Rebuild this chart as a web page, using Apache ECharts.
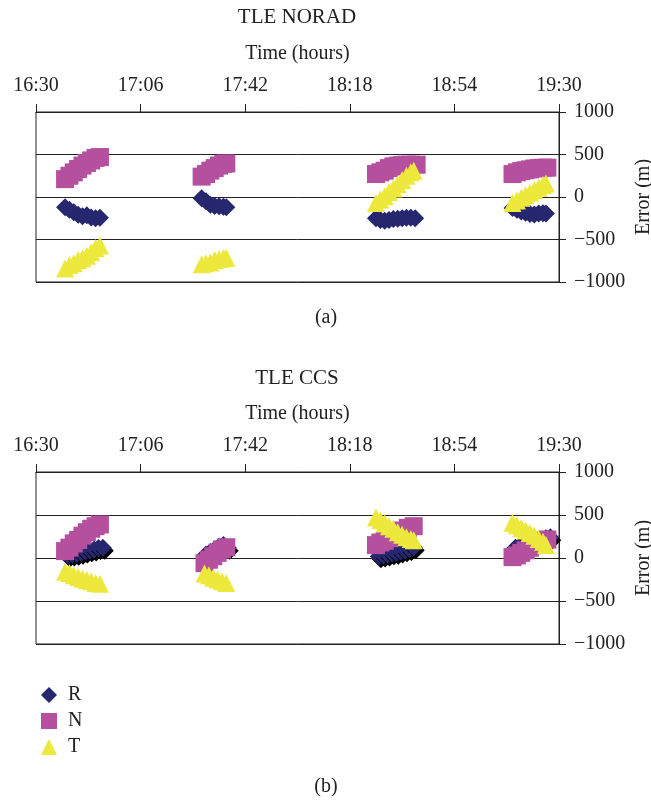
<!DOCTYPE html>
<html>
<head>
<meta charset="utf-8">
<script src="https://cdn.jsdelivr.net/npm/echarts@6/dist/echarts.min.js"></script>
<style>
  html, body { margin: 0; padding: 0; background: #fff; }
  #map { width: 651px; height: 800px; }
</style>
</head>
<body>
<div id="map"></div>
<script>
// x = minutes after 16:30, y = error in metres
const startMin = 16 * 60 + 30;
const yTicks = [-1000, -500, 0, 500, 1000];

const noradR = [[10,-120],[11.5,-150],[13,-180],[14.5,-210],[16,-225],[17.5,-215],[19,-240],[20.5,-250],[22,-245],
  [57,-15],[58.5,-50],[60,-90],[61.5,-105],[63,-110],[64.5,-115],[65.5,-120],
  [117,-250],[118.5,-270],[120,-280],[121.5,-270],[123,-260],[124.5,-255],[126,-250],[127.5,-245],[129,-245],[130.5,-250],
  [164,-130],[165.5,-150],[167,-170],[168.5,-185],[170,-200],[171.5,-205],[173,-195],[174.5,-190],[175.5,-195]];
const noradN = [[10,210],[11.5,250],[13,290],[14.5,330],[16,370],[17.5,400],[19,430],[20.5,460],[22,470],
  [57,240],[58.5,270],[60,310],[61.5,340],[63,370],[64.5,390],[65.5,395],
  [117,270],[118.5,290],[120,310],[121.5,340],[123,360],[124.5,370],[126,375],[127.5,380],[129,380],[131,380],
  [164,270],[165.5,290],[167,305],[168.5,315],[170,325],[171.5,335],[173,340],[174.5,345],[176,345]];
const noradT = [[10,-840],[11.5,-800],[13,-780],[14.5,-740],[16,-720],[17.5,-690],[19,-650],[20.5,-600],[22,-570],
  [57,-790],[58.5,-780],[60,-770],[61.5,-740],[63,-730],[64.5,-720],[65.5,-715],
  [117,-70],[118.5,-30],[120,10],[121.5,60],[123,100],[124.5,150],[126,200],[127.5,250],[129,290],[130,310],
  [164,-70],[165.5,-40],[167,-10],[168.5,20],[170,50],[171.5,80],[173,110],[174.5,140],[175.5,160]];

const ccsR = [[11,30],[12.5,40],[14,50],[15.5,60],[17,75],[18.5,90],[20,100],[21.5,115],[23,120],
  [58.5,40],[60,70],[61.5,100],[63,130],[64.5,150],[66,120],
  [118,20],[119.5,30],[121,40],[122.5,55],[124,60],[125.5,75],[127,90],[128.5,105],[130,125],
  [165,120],[166.5,140],[168,155],[169.5,170],[171,185],[172.5,200],[174,215],[175.5,230],[177,240]];
const ccsN = [[10,80],[11.5,120],[13,170],[14.5,210],[16,260],[17.5,300],[19,340],[20.5,370],[22,390],
  [58,-60],[59.5,-20],[61,20],[62.5,60],[64,100],[65.5,125],
  [117,150],[118.5,180],[120,200],[121.5,230],[123,260],[124.5,290],[126,320],[128,350],[130,370],
  [164,10],[165.5,30],[167,60],[168.5,90],[170,120],[171.5,150],[173,180],[174.5,200],[176,215]];
const ccsT = [[10,-160],[11.5,-175],[13,-200],[14.5,-220],[16,-240],[17.5,-255],[19,-270],[20.5,-290],[22,-300],
  [58,-180],[59.5,-200],[61,-230],[62.5,-250],[64,-270],[65.5,-290],
  [117,470],[118.5,440],[120,400],[121.5,370],[123,340],[124.5,300],[126,270],[127.5,240],[129,220],[130,205],
  [164,410],[165.5,380],[167,350],[168.5,320],[170,290],[171.5,260],[173,220],[174.5,190],[175.5,150]];

const serif = "'Liberation Serif', 'DejaVu Serif', serif";
const ink = '#222';
const colR = '#27276f', colN = '#b5509f', colT = '#ede83c';
const fs = 20;

function hhmm(m) {
  let t = startMin + m;
  let mm = t % 60;
  return Math.floor(t / 60) + ':' + (mm < 10 ? '0' + mm : mm);
}

function xAx(i) {
  return {
    gridIndex: i, type: 'value', position: 'top',
    min: 0, max: 180, interval: 36,
    name: 'Time (hours)', nameLocation: 'middle', nameGap: 48,
    nameTextStyle: { fontFamily: serif, fontSize: fs, color: ink },
    axisLine: { show: true, onZero: false, lineStyle: { color: ink } },
    axisTick: { show: true, length: 8, lineStyle: { color: ink } },
    axisLabel: { formatter: hhmm, margin: 16, fontFamily: serif, fontSize: fs, color: ink },
    splitLine: { show: false }
  };
}

function yAx(i) {
  return {
    gridIndex: i, type: 'value', position: 'right',
    min: yTicks[0], max: yTicks[yTicks.length - 1], interval: 500,
    name: 'Error (m)', nameLocation: 'middle', nameGap: 75, nameRotate: 90, nameMoveOverlap: false,
    nameTextStyle: { fontFamily: serif, fontSize: fs, color: ink },
    axisLine: { show: true, onZero: false, lineStyle: { color: ink } },
    axisTick: { show: true, length: 7, lineStyle: { color: ink } },
    axisLabel: {
      formatter: v => (v < 0 ? '\u2212' + Math.abs(v) : '' + v),
      margin: 15, fontFamily: serif, fontSize: fs, color: ink
    },
    splitLine: { show: true, lineStyle: { color: ink, width: 1 } }
  };
}

function scat(name, data, i, symbol, color, extra) {
  return {
    name: name, type: 'scatter', xAxisIndex: i, yAxisIndex: i,
    symbol: symbol, symbolSize: 18, data: data,
    itemStyle: Object.assign({ color: color, opacity: 1 }, extra || {}),
    emphasis: { disabled: true }
  };
}

function txt(s, x, y, size) {
  return {
    type: 'text', x: x, y: y,
    style: { text: s, fill: ink, font: size + 'px ' + serif, align: 'center', verticalAlign: 'middle',
      textAlign: 'center', textVerticalAlign: 'middle' }
  };
}

let option = {
  backgroundColor: '#fff',
  animation: false,
  grid: [
    { left: 36, top: 112, width: 523, height: 170, show: true, borderColor: ink, borderWidth: 1, outerBoundsMode: 'none', containLabel: false },
    { left: 36, top: 472, width: 523, height: 172, show: true, borderColor: ink, borderWidth: 1, outerBoundsMode: 'none', containLabel: false }
  ],
  xAxis: [xAx(0), xAx(1)],
  yAxis: [yAx(0), yAx(1)],
  legend: {
    orient: 'vertical', left: 36, top: 680,
    itemWidth: 16, itemHeight: 16, itemGap: 6,
    data: ['R', 'N', 'T'],
    textStyle: { fontFamily: serif, fontSize: fs, color: ink, padding: [0, 0, 0, 6] }
  },
  graphic: [
    txt('TLE NORAD', 297, 17, 21),
    txt('(a)', 326, 318, fs),
    txt('TLE CCS', 297, 378, 21),
    txt('(b)', 326, 787, fs)
  ],
  series: [
    scat('R', noradR, 0, 'diamond', colR),
    scat('N', noradN, 0, 'rect', colN),
    scat('T', noradT, 0, 'triangle', colT),
    scat('R', ccsR, 1, 'diamond', colR, { shadowColor: '#000', shadowBlur: 0, shadowOffsetX: 2, shadowOffsetY: 3 }),
    scat('N', ccsN, 1, 'rect', colN),
    scat('T', ccsT, 1, 'triangle', colT)
  ]
};

let myChart = echarts.init(document.getElementById('map'));
myChart.setOption(option);
</script>
</body>
</html>
